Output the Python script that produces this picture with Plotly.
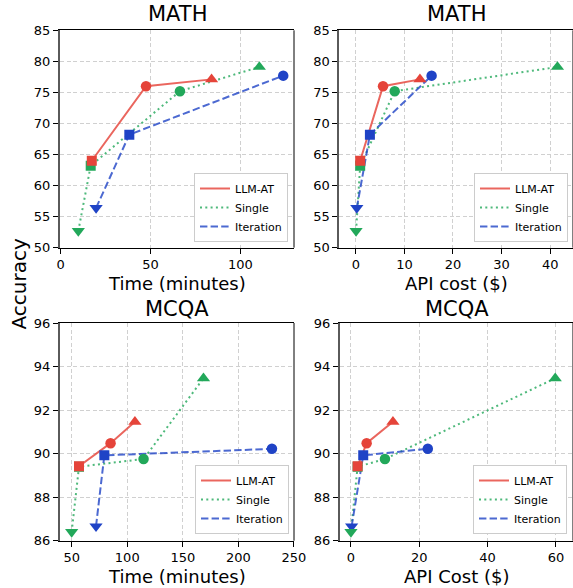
import plotly.graph_objects as go

# ---------------- data ----------------
series_names = ["LLM-AT", "Single", "Iteration"]

# MATH benchmark
math_llmat_time = [17.3, 47.5, 84.0]
math_llmat_cost = [0.9, 5.6, 13.2]
math_llmat_acc = [64.0, 76.0, 77.1]

math_single_time = [9.8, 16.7, 66.4, 110.6]
math_single_cost = [0.05, 0.9, 8.0, 41.5]
math_single_acc = [52.7, 63.2, 75.2, 79.1]

math_iter_time = [19.7, 38.2, 123.9]
math_iter_cost = [0.2, 2.9, 15.6]
math_iter_acc = [56.4, 68.2, 77.7]

# MCQA benchmark
mcqa_llmat_time = [56.6, 85.0, 106.9]
mcqa_llmat_cost = [1.95, 4.6, 12.3]
mcqa_llmat_acc = [89.42, 90.48, 91.46]

mcqa_single_time = [50.0, 56.6, 114.7, 168.6]
mcqa_single_cost = [0.0, 1.95, 9.95, 59.8]
mcqa_single_acc = [86.4, 89.4, 89.75, 93.46]

mcqa_iter_time = [71.9, 79.4, 230.2]
mcqa_iter_cost = [0.2, 3.6, 22.5]
mcqa_iter_acc = [86.66, 89.92, 90.22]

panel_titles = ["MATH", "MATH", "MCQA", "MCQA"]
panel_xlabels = ["Time (minutes)", "API cost ($)", "Time (minutes)", "API Cost ($)"]
y_label = "Accuracy"

# ---------------- styles ----------------
FONT = "DejaVu Sans"
W, H = 573, 588
RED, GREEN, BLUE = "#E5443A", "#22A85A", "#1F43C6"
LINE_COL = {"LLM-AT": "rgba(229,68,58,0.82)", "Single": "rgba(34,168,90,0.8)",
            "Iteration": "rgba(31,67,198,0.8)"}
MARK_COL = {"LLM-AT": RED, "Single": GREEN, "Iteration": BLUE}
DASH = {"LLM-AT": "solid", "Single": "2px,3.3px", "Iteration": "7.4px,3.2px"}
SYMS = {"LLM-AT": ["square", "circle", "triangle-up"],
        "Single": ["triangle-down", "square", "circle", "triangle-up"],
        "Iteration": ["triangle-down", "square", "circle"]}
SIZES = {"square": 10, "circle": 10.5, "triangle-up": 11.5, "triangle-down": 11.5}

panels = [
    {"LLM-AT": (math_llmat_time, math_llmat_acc), "Single": (math_single_time, math_single_acc),
     "Iteration": (math_iter_time, math_iter_acc)},
    {"LLM-AT": (math_llmat_cost, math_llmat_acc), "Single": (math_single_cost, math_single_acc),
     "Iteration": (math_iter_cost, math_iter_acc)},
    {"LLM-AT": (mcqa_llmat_time, mcqa_llmat_acc), "Single": (mcqa_single_time, mcqa_single_acc),
     "Iteration": (mcqa_iter_time, mcqa_iter_acc)},
    {"LLM-AT": (mcqa_llmat_cost, mcqa_llmat_acc), "Single": (mcqa_single_cost, mcqa_single_acc),
     "Iteration": (mcqa_iter_cost, mcqa_iter_acc)},
]

# pixel geometry of the plot areas (left, right, top, bottom)
boxes = [(60, 294, 30.3, 247.7), (339.3, 573, 30.3, 247.7),
         (60, 294, 323, 540.7), (340, 573, 323, 540.7)]
title_top = [0, 0, 294.5, 294.5]
xranges = [[-0.4, 129.9], [-3.4, 44.7], [39.5, 250.05], [-3.2, 65.0]]
xticks = [[0, 50, 100], [0, 10, 20, 30, 40], [50, 100, 150, 200, 250], [0, 20, 40, 60]]
yranges = [[50, 85], [50, 85], [86, 96], [86, 96]]
yticks = [list(range(50, 86, 5))] * 2 + [list(range(86, 97, 2))] * 2
legend_pos = [(288, 242), (568, 242), (289, 534), (567, 534)]

fig = go.Figure()
layout = {}
annotations = []
shapes = []

for i, panel in enumerate(panels):
    sfx = "" if i == 0 else str(i + 1)
    xa, ya = "x" + sfx, "y" + sfx
    leg = "legend" + sfx
    for name in series_names:
        xs, ys = panel[name]
        fig.add_trace(go.Scatter(x=xs, y=ys, mode="lines", name=name, xaxis=xa, yaxis=ya,
                                 line=dict(color=LINE_COL[name], width=2, dash=DASH[name]),
                                 legend=leg, showlegend=True, hoverinfo="skip"))
    for name in ["Iteration", "Single", "LLM-AT"]:
        xs, ys = panel[name]
        fig.add_trace(go.Scatter(x=xs, y=ys, mode="markers", name=name, xaxis=xa, yaxis=ya,
                                 marker=dict(color=MARK_COL[name], symbol=SYMS[name], opacity=1,
                                             size=[SIZES[s] for s in SYMS[name]], line=dict(width=0)),
                                 showlegend=False, hoverinfo="skip"))
    l, r, t, b = boxes[i]
    grid = dict(showgrid=True, gridcolor="#d0d0d0", griddash="4px,2.5px", gridwidth=1, zeroline=False,
                ticks="outside", ticklen=5, tickwidth=1, tickcolor="black", automargin=False,
                tickfont=dict(family=FONT, size=13, color="black"))
    layout["xaxis" + sfx] = dict(domain=[l / W, r / W], anchor=ya, range=xranges[i],
                                 tickmode="array", tickvals=xticks[i],
                                 showline=True, linecolor="black", linewidth=1, mirror=True, **grid)
    layout["yaxis" + sfx] = dict(domain=[1 - b / H, 1 - t / H], anchor=xa, range=yranges[i],
                                 tickmode="array", tickvals=yticks[i],
                                 showline=True, linecolor="#5a5a5a", linewidth=2, mirror=False, **grid)
    lx, ly = legend_pos[i]
    layout[leg] = dict(x=lx / W, y=1 - ly / H, xanchor="right", yanchor="bottom",
                       bgcolor="white", bordercolor="#cccccc", borderwidth=1,
                       font=dict(family=FONT, size=11, color="black"))
    shapes.append(dict(type="line", xref=xa + " domain", yref=ya + " domain", x0=1, x1=1, y0=0, y1=1,
                       line=dict(color="black", width=1)))
    cx = (l + r) / 2
    annotations.append(dict(text=panel_titles[i], x=cx / W, y=1 - title_top[i] / H, xref="paper", yref="paper",
                            xanchor="center", yanchor="top", showarrow=False,
                            font=dict(family=FONT, size=21, color="black")))
    annotations.append(dict(text=panel_xlabels[i], x=cx / W, y=1 - (b + 35.5) / H, xref="paper", yref="paper",
                            xanchor="center", yanchor="middle", showarrow=False,
                            font=dict(family=FONT, size=18, color="black")))

annotations.append(dict(text=y_label, x=18.5 / W, y=1 - 284 / H, xref="paper", yref="paper",
                        xanchor="center", yanchor="middle", showarrow=False, textangle=-90,
                        font=dict(family=FONT, size=20, color="black")))

fig.update_layout(width=W, height=H, margin=dict(l=0, r=0, t=0, b=0, autoexpand=False),
                  paper_bgcolor="white", plot_bgcolor="white",
                  annotations=annotations, shapes=shapes, **layout)

fig.write_html("out.html")
